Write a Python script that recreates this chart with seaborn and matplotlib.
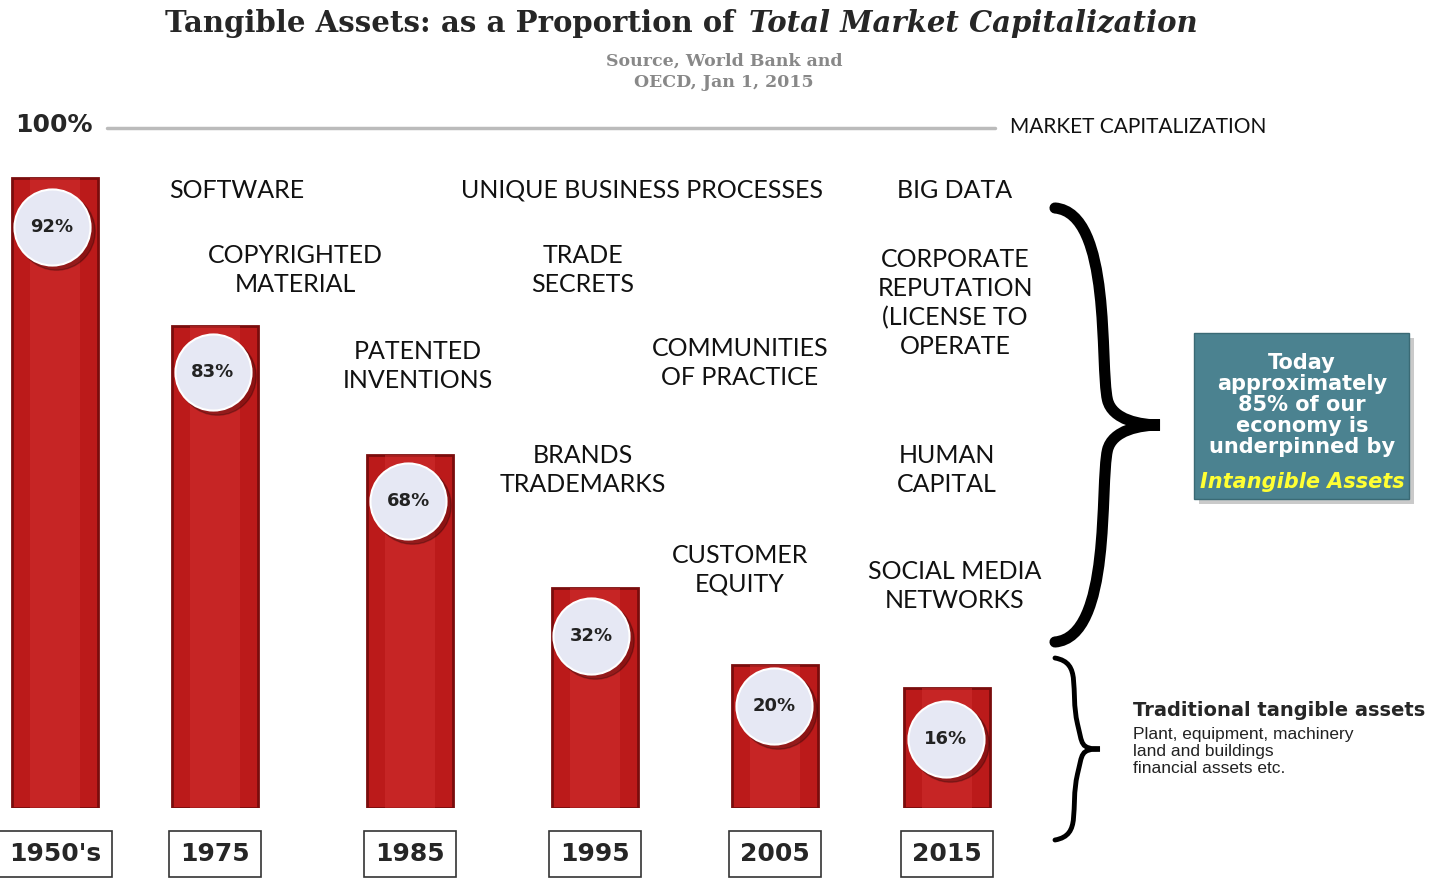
import numpy as np
import matplotlib.pyplot as plt
import seaborn as sns
from matplotlib.path import Path
from matplotlib.patches import PathPatch, Rectangle

years = ["1950's", "1975", "1985", "1995", "2005", "2015"]
pct_labels = ["92%", "83%", "68%", "32%", "20%", "16%"]
# bar heights as drawn in the picture (percent of market cap line)
bar_heights = [92.6, 70.9, 51.9, 32.4, 21.0, 17.6]
# x centres of the bars, in pixels
bar_x = [55, 215, 410, 595, 775, 947]

asset_labels = [
    ("SOFTWARE", 237, 190),
    ("COPYRIGHTED\nMATERIAL", 295, 270),
    ("PATENTED\nINVENTIONS", 418, 366),
    ("UNIQUE BUSINESS PROCESSES", 642, 190),
    ("TRADE\nSECRETS", 583, 270),
    ("BRANDS\nTRADEMARKS", 583, 470),
    ("COMMUNITIES\nOF PRACTICE", 740, 363),
    ("CUSTOMER\nEQUITY", 740, 570),
    ("BIG DATA", 955, 190),
    ("CORPORATE\nREPUTATION\n(LICENSE TO\nOPERATE", 955, 303),
    ("HUMAN\nCAPITAL", 947, 470),
    ("SOCIAL MEDIA\nNETWORKS", 955, 586),
]

sns.set_style("white")
plt.rcParams['font.family'] = ['DejaVu Sans']

W, H = 1431, 885
fig = plt.figure(figsize=(W / 100, H / 100), dpi=100)

# bar axes: x in pixels, y in percent (0 at px 808, 100 at px 128)
axb = fig.add_axes([0, (H - 808) / H, 1, 680 / H])
axb.set_xlim(0, W)
axb.set_ylim(0, 100)
axb.axis("off")
axb.bar(bar_x, bar_heights, width=86, color="#bb1a1a", edgecolor="#7a0c0c", linewidth=2, zorder=2)
axb.bar(bar_x, bar_heights, width=50, color="#d23030", linewidth=0, zorder=2.5, alpha=0.5)

# overlay axes in pixel coordinates
ax = fig.add_axes([0, 0, 1, 1])
ax.set_xlim(0, W)
ax.set_ylim(H, 0)
ax.axis("off")
ax.patch.set_alpha(0)

circ_y = [227, 372, 501, 636, 706, 739]
circ_x = [52, 213, 408, 591, 774, 946]
ax.scatter(np.array(circ_x) + 4, np.array(circ_y) + 4, s=3100, color="#00000040", zorder=3)
ax.scatter(circ_x, circ_y, s=3000, color="#e6e8f4", edgecolor="white", linewidth=1.5, zorder=4)
for x, y, t in zip(circ_x, circ_y, pct_labels):
    ax.text(x, y, t, ha="center", va="center", fontsize=13, fontweight="bold", color="#222", zorder=5)

for x, t in zip(bar_x, years):
    ax.text(x, 854, t, ha="center", va="center", fontsize=18, fontweight="bold",
            bbox=dict(boxstyle="square,pad=0.45", fc="white", ec="#333", lw=1.2),
            zorder=5)

for t, x, y in asset_labels:
    ax.text(x, y, t, ha="center", va="center", fontsize=18,
            family=["Lato", "DejaVu Sans"], color="#111", linespacing=1.3)

# title
ax.text(745, 24, "Tangible Assets: as a Proportion of ", ha="right", va="center",
        fontsize=21, fontweight="bold", family=["DejaVu Serif"])
ax.text(749, 24, "Total Market Capitalization", ha="left", va="center",
        fontsize=21, fontweight="bold", style="italic", family=["DejaVu Serif"])
ax.text(724, 72, "Source, World Bank and\nOECD, Jan 1, 2015", ha="center", va="center",
        fontsize=12.5, fontweight="bold", color="#888", family=["DejaVu Serif"], linespacing=1.3)

ax.text(15, 125, "100%", ha="left", va="center", fontsize=18, fontweight="bold")
ax.plot([107, 995], [128, 128], color="#bbbbbb", lw=2.5)
ax.text(1010, 127, "MARKET CAPITALIZATION", ha="left", va="center", fontsize=15,
        family=["Lato", "DejaVu Sans"], color="#111")


def brace(x0, x1, y0, y1, lw):
    ym = (y0 + y1) / 2
    xm = (x0 + x1) / 2
    verts = [(x0, y0), (xm + 5, y0 + 5), (xm - 8, ym - 60), (xm, ym - 25),
             (xm + 5, ym - 5), (x1 - 20, ym), (x1, ym),
             (x1 - 20, ym), (xm + 5, ym + 5), (xm, ym + 25),
             (xm - 8, ym + 60), (xm + 5, y1 - 5), (x0, y1)]
    codes = [Path.MOVETO] + [Path.CURVE4] * 12
    ax.add_patch(PathPatch(Path(verts, codes), fc="none", ec="black", lw=lw, capstyle="round"))


brace(1055, 1160, 208, 642, 8)
brace(1055, 1100, 658, 840, 3.5)

ax.add_patch(Rectangle((1199, 338), 215, 166, fc="#00000035", ec="none"))
ax.add_patch(Rectangle((1194, 333), 215, 166, fc="#4b8290", ec="#3a6a75"))
ax.text(1302, 405, "Today\napproximately\n85% of our\neconomy is\nunderpinned by", ha="center", va="center",
        fontsize=15, fontweight="bold", color="white", linespacing=1.05)
ax.text(1302, 482, "Intangible Assets", ha="center", va="center", fontsize=15,
        fontweight="bold", style="italic", color="#ffff33")

ax.text(1133, 710, "Traditional tangible assets", ha="left", va="center", fontsize=14,
        fontweight="bold")
ax.text(1133, 727, "Plant, equipment, machinery\nland and buildings\nfinancial assets etc.",
        ha="left", va="top", fontsize=12.5, family=["Liberation Sans", "DejaVu Sans"],
        color="#222", linespacing=1.15)

fig.savefig("out.png", dpi=100)
